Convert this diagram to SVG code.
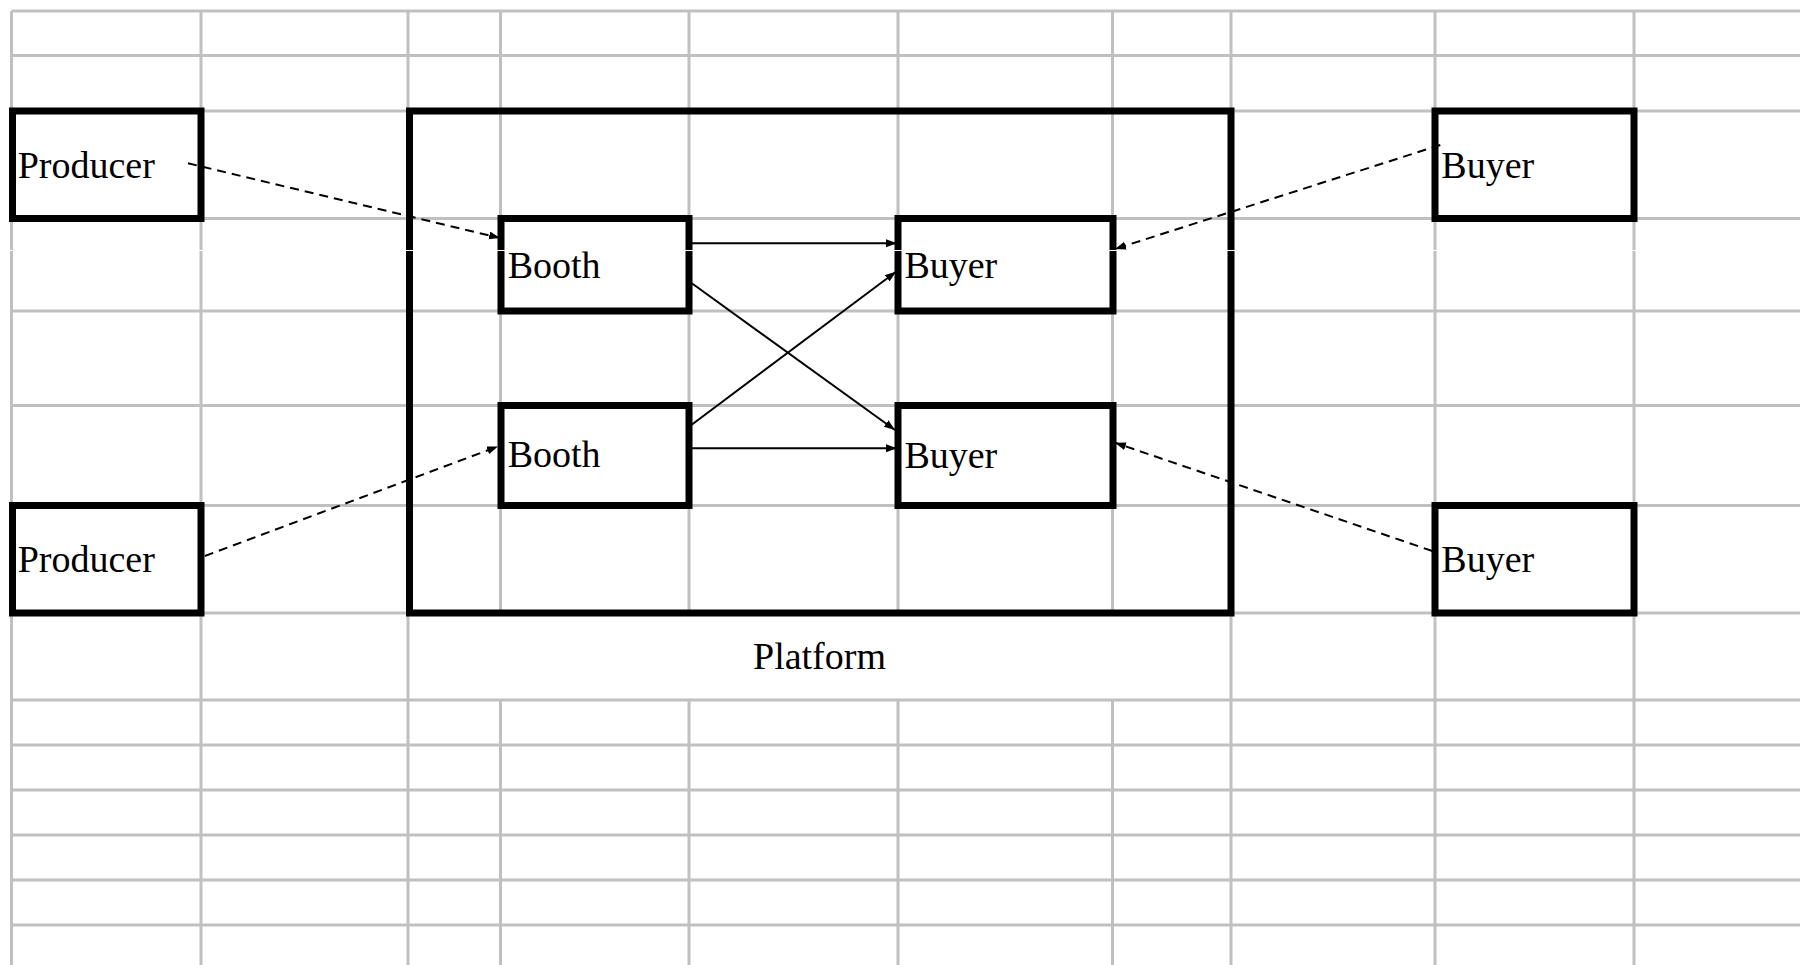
<svg xmlns="http://www.w3.org/2000/svg" width="1800" height="965" viewBox="0 0 1800 965">
  <defs>
    <style>
      .grid line { stroke: #c0c0c0; stroke-width: 3; }
      .box { fill: none; stroke: #000; stroke-width: 7; }
      .lbl { font-family: "Liberation Serif", "Times New Roman", serif; font-size: 38px; fill: #000; }
      .dash { stroke: #000; stroke-width: 2; stroke-dasharray: 9 6; fill: none; }
      .solid { stroke: #000; stroke-width: 2; fill: none; }
    </style>
    <marker id="arrow" markerUnits="userSpaceOnUse" markerWidth="12" markerHeight="9" refX="11" refY="4" orient="auto">
      <path d="M0,0 L11,4 L0,8 z" fill="#000"/>
    </marker>
  </defs>
  <rect x="0" y="0" width="1800" height="965" fill="#fff"/>
  <g class="grid" id="grid">
    <line x1="11.5" y1="11" x2="1800" y2="11"/>
    <line x1="11.5" y1="55.5" x2="1800" y2="55.5"/>
    <line x1="11.5" y1="111" x2="1800" y2="111"/>
    <line x1="11.5" y1="218.5" x2="1800" y2="218.5"/>
    <line x1="11.5" y1="311" x2="1800" y2="311"/>
    <line x1="11.5" y1="405.5" x2="1800" y2="405.5"/>
    <line x1="11.5" y1="505.5" x2="1800" y2="505.5"/>
    <line x1="11.5" y1="613" x2="1800" y2="613"/>
    <line x1="11.5" y1="700" x2="1800" y2="700"/>
    <line x1="11.5" y1="745" x2="1800" y2="745"/>
    <line x1="11.5" y1="790" x2="1800" y2="790"/>
    <line x1="11.5" y1="835" x2="1800" y2="835"/>
    <line x1="11.5" y1="880" x2="1800" y2="880"/>
    <line x1="11.5" y1="925" x2="1800" y2="925"/>
    <line x1="11.5" y1="11" x2="11.5" y2="965"/>
    <line x1="201" y1="11" x2="201" y2="965"/>
    <line x1="408" y1="11" x2="408" y2="965"/>
    <line x1="500.5" y1="11" x2="500.5" y2="613"/>
    <line x1="500.5" y1="700" x2="500.5" y2="965"/>
    <line x1="689" y1="11" x2="689" y2="613"/>
    <line x1="689" y1="700" x2="689" y2="965"/>
    <line x1="898" y1="11" x2="898" y2="613"/>
    <line x1="898" y1="700" x2="898" y2="965"/>
    <line x1="1112.5" y1="11" x2="1112.5" y2="613"/>
    <line x1="1112.5" y1="700" x2="1112.5" y2="965"/>
    <line x1="1231" y1="11" x2="1231" y2="965"/>
    <line x1="1435" y1="11" x2="1435" y2="965"/>
    <line x1="1634" y1="11" x2="1634" y2="965"/>
  </g>
  <g id="platform">
    <rect class="box" x="409.5" y="111" width="821.5" height="502"/>
    <text class="lbl" x="819.5" y="669.3" text-anchor="middle">Platform</text>
  </g>
  <g id="producer1">
    <rect class="box" x="12.5" y="111" width="188.5" height="107.5"/>
  </g>
  <g id="producer2">
    <rect class="box" x="12.5" y="505.5" width="188.5" height="107.5"/>
  </g>
  <g id="booth1">
    <rect class="box" x="501" y="218.5" width="188" height="92.5"/>
  </g>
  <g id="booth2">
    <rect class="box" x="501" y="405.5" width="188" height="100"/>
  </g>
  <g id="buyer-in1">
    <rect class="box" x="898" y="218.5" width="215" height="92.5"/>
  </g>
  <g id="buyer-in2">
    <rect class="box" x="898" y="405.5" width="215" height="100"/>
  </g>
  <g id="buyer-out1">
    <rect class="box" x="1435" y="111" width="199" height="107.5"/>
  </g>
  <g id="buyer-out2">
    <rect class="box" x="1435" y="505.5" width="199" height="107.5"/>
  </g>
  <line x1="0" y1="250.5" x2="1800" y2="250.5" stroke="#fff" stroke-width="1"/>
  <g id="labels">
    <text class="lbl" x="17.7" y="178.3">Producer</text>
    <text class="lbl" x="17.7" y="572.3">Producer</text>
    <text class="lbl" x="507.7" y="278.3">Booth</text>
    <text class="lbl" x="507.7" y="467">Booth</text>
    <text class="lbl" x="904.4" y="278.3">Buyer</text>
    <text class="lbl" x="904.4" y="467.5">Buyer</text>
    <text class="lbl" x="1441.3" y="177.7">Buyer</text>
    <text class="lbl" x="1441.3" y="572.3">Buyer</text>
  </g>
  <g id="connectors">
    <line class="dash" x1="188" y1="163.3" x2="500" y2="238" marker-end="url(#arrow)"/>
    <line class="dash" x1="204.8" y1="556" x2="498" y2="446.5" marker-end="url(#arrow)"/>
    <line class="dash" x1="1440.3" y1="145" x2="1115" y2="249" marker-end="url(#arrow)"/>
    <line class="dash" x1="1432.3" y1="551" x2="1115" y2="442.7" marker-end="url(#arrow)"/>
    <line class="solid" x1="690" y1="243.3" x2="897" y2="243.3" marker-end="url(#arrow)"/>
    <line class="solid" x1="691.8" y1="283.3" x2="895" y2="430" marker-end="url(#arrow)"/>
    <line class="solid" x1="690" y1="426" x2="896" y2="271.7" marker-end="url(#arrow)"/>
    <line class="solid" x1="690" y1="448.3" x2="897" y2="448.3" marker-end="url(#arrow)"/>
  </g>
</svg>
